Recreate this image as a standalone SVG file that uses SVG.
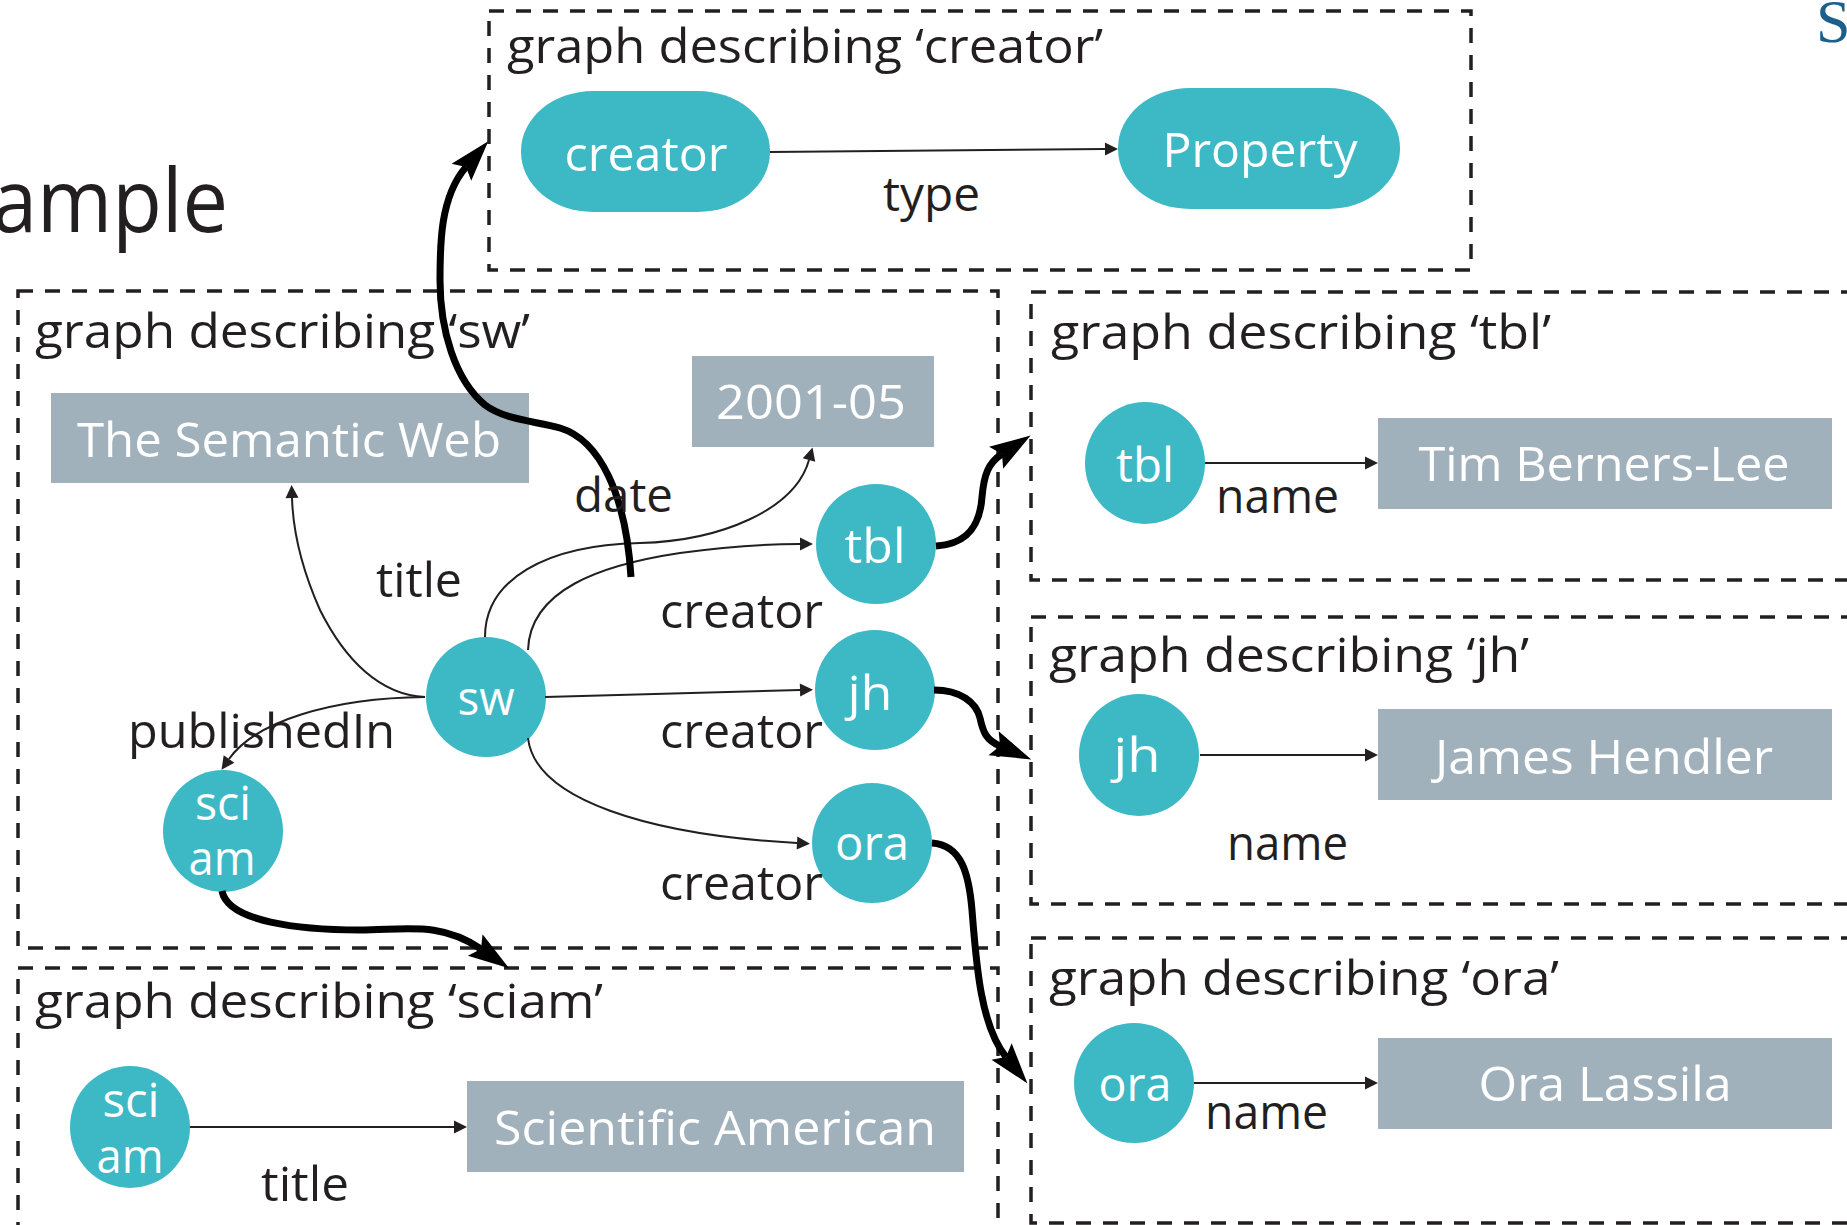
<svg xmlns="http://www.w3.org/2000/svg" width="1847" height="1225" viewBox="0 0 1847 1225">
<style>
.box{fill:none;stroke:#231f20;stroke-width:3.5;stroke-dasharray:15 12}
.node{fill:#3db8c5}
.lit{fill:#a0b1bc}
.t{font-family:"Open Sans","Liberation Sans",sans-serif;font-size:48px;fill:#231f20}
.w{font-family:"Open Sans","Liberation Sans",sans-serif;font-size:48px;fill:#ffffff;text-anchor:middle}
.thin{fill:none;stroke:#231f20;stroke-width:2;marker-end:url(#ah)}
.thick{fill:none;stroke:#000;stroke-width:7;marker-end:url(#big)}
</style>
<defs>
<marker id="ah" markerUnits="userSpaceOnUse" markerWidth="16" markerHeight="16" viewBox="-1 -8 16 16" refX="0" refY="0" orient="auto">
<path d="M13,0 L0,-6.5 L0,6.5 Z" fill="#231f20"/>
</marker>
<marker id="big" markerUnits="userSpaceOnUse" markerWidth="50" markerHeight="32" viewBox="-10 -16 50 32" refX="0" refY="0" orient="auto">
<path d="M34,0 L-7,-13 L0,0 L-7,13 Z" fill="#000"/>
</marker>
</defs>

<text x="-8" y="232" class="t" style="font-size:88px" textLength="236" lengthAdjust="spacingAndGlyphs">ample</text>
<text x="1816" y="42" style="font-family:'Liberation Serif',serif;font-size:62px;fill:#1d5f8b">S</text>

<g id="graph-creator">
<rect class="box" x="489" y="11" width="982" height="259"/>
<text class="t" x="507" y="63" textLength="596" lengthAdjust="spacingAndGlyphs">graph describing ‘creator’</text>
</g>
<g id="graph-sw">
<rect class="box" x="18" y="291" width="980" height="657"/>
<text class="t" x="35" y="348" textLength="495" lengthAdjust="spacingAndGlyphs">graph describing ‘sw’</text>
</g>
<g id="graph-sciam">
<rect class="box" x="18" y="968" width="980" height="275"/>
<text class="t" x="35" y="1018" textLength="568" lengthAdjust="spacingAndGlyphs">graph describing ‘sciam’</text>
</g>
<g id="graph-tbl">
<rect class="box" x="1031" y="292" width="900" height="288"/>
<text class="t" x="1051" y="349" textLength="500" lengthAdjust="spacingAndGlyphs">graph describing ‘tbl’</text>
</g>
<g id="graph-jh">
<rect class="box" x="1031" y="617" width="900" height="287"/>
<text class="t" x="1049" y="672" textLength="480" lengthAdjust="spacingAndGlyphs">graph describing ‘jh’</text>
</g>
<g id="graph-ora">
<rect class="box" x="1031" y="938" width="900" height="285"/>
<text class="t" x="1049" y="995" textLength="510" lengthAdjust="spacingAndGlyphs">graph describing ‘ora’</text>
</g>

<g id="node-creator">
<rect class="node" x="521" y="91" width="249" height="121" rx="72" ry="60"/>
<text class="w" x="646" y="171" textLength="163" lengthAdjust="spacingAndGlyphs">creator</text>
</g>
<g id="node-property">
<rect class="node" x="1118" y="88" width="282" height="121" rx="72" ry="60"/>
<text class="w" x="1260" y="167" textLength="195" lengthAdjust="spacingAndGlyphs">Property</text>
</g>

<g id="node-semantic-web">
<rect class="lit" x="51" y="393" width="478" height="90"/>
<text class="w" x="289" y="457" textLength="424" lengthAdjust="spacingAndGlyphs">The Semantic Web</text>
</g>
<g id="node-date">
<rect class="lit" x="692" y="356" width="242" height="91"/>
<text class="w" x="811" y="419" textLength="190" lengthAdjust="spacingAndGlyphs">2001-05</text>
</g>
<g id="node-sw">
<circle class="node" cx="486" cy="697" r="60"/>
<text class="w" x="486" y="715" textLength="57" lengthAdjust="spacingAndGlyphs">sw</text>
</g>
<g id="node-tbl-sw">
<ellipse class="node" cx="876" cy="544" rx="60" ry="60"/>
<text class="w" x="875" y="563" textLength="61" lengthAdjust="spacingAndGlyphs">tbl</text>
</g>
<g id="node-jh-sw">
<ellipse class="node" cx="875" cy="690" rx="60" ry="60"/>
<text class="w" x="870" y="710" textLength="45" lengthAdjust="spacingAndGlyphs">jh</text>
</g>
<g id="node-ora-sw">
<ellipse class="node" cx="872" cy="843" rx="60" ry="60"/>
<text class="w" x="872" y="860" textLength="74" lengthAdjust="spacingAndGlyphs">ora</text>
</g>
<g id="node-sciam-sw">
<ellipse class="node" cx="223" cy="831" rx="60" ry="61"/>
<text class="w" x="223" y="820" textLength="56" lengthAdjust="spacingAndGlyphs">sci</text>
<text class="w" x="222" y="875" textLength="67" lengthAdjust="spacingAndGlyphs">am</text>
</g>

<g id="node-sciam">
<ellipse class="node" cx="130" cy="1127" rx="60" ry="61"/>
<text class="w" x="131" y="1117" textLength="57" lengthAdjust="spacingAndGlyphs">sci</text>
<text class="w" x="130" y="1173" textLength="67" lengthAdjust="spacingAndGlyphs">am</text>
</g>
<g id="node-scientific-american">
<rect class="lit" x="467" y="1081" width="497" height="91"/>
<text class="w" x="715" y="1145" textLength="442" lengthAdjust="spacingAndGlyphs">Scientific American</text>
</g>

<g id="node-tbl">
<ellipse class="node" cx="1145" cy="463" rx="60" ry="61"/>
<text class="w" x="1145" y="482" textLength="58" lengthAdjust="spacingAndGlyphs">tbl</text>
</g>
<g id="node-tim">
<rect class="lit" x="1378" y="418" width="454" height="91"/>
<text class="w" x="1604" y="481" textLength="371" lengthAdjust="spacingAndGlyphs">Tim Berners-Lee</text>
</g>
<g id="node-jh">
<ellipse class="node" cx="1139" cy="755" rx="60" ry="61"/>
<text class="w" x="1137" y="772" textLength="47" lengthAdjust="spacingAndGlyphs">jh</text>
</g>
<g id="node-james">
<rect class="lit" x="1378" y="709" width="454" height="91"/>
<text class="w" x="1604" y="774" textLength="338" lengthAdjust="spacingAndGlyphs">James Hendler</text>
</g>
<g id="node-ora">
<ellipse class="node" cx="1134" cy="1083" rx="60" ry="60"/>
<text class="w" x="1135" y="1101" textLength="73" lengthAdjust="spacingAndGlyphs">ora</text>
</g>
<g id="node-ora-lassila">
<rect class="lit" x="1378" y="1038" width="454" height="91"/>
<text class="w" x="1605" y="1101" textLength="253" lengthAdjust="spacingAndGlyphs">Ora Lassila</text>
</g>

<g id="connectors">
<path class="thin" d="M770,152 L1105,149"/>
<path class="thin" d="M425,697 C380,695 345,660 320,610 C300,565 293,530 292,498"/>
<path class="thin" d="M425,697 C330,698 255,722 229,759"/>
<path class="thin" d="M485,637 C485,580 545,545 640,543 C720,541 795,510 809,460"/>
<path class="thin" d="M528,650 C530,590 600,565 680,553 C730,546 770,544 800,544"/>
<path class="thin" d="M545,697 L800,690"/>
<path class="thin" d="M528,738 C535,800 650,835 797,843"/>
<path class="thin" d="M190,1127 L454,1127"/>
<path class="thin" d="M1205,463 L1365,463"/>
<path class="thin" d="M1200,755 L1365,755"/>
<path class="thin" d="M1194,1083 L1365,1083"/>

<path class="thick" d="M631,577 C626,495 600,440 560,428 C535,421 505,420 485,405 C455,380 440,330 440,280 C440,245 440,197 466,167"/>
<path class="thick" d="M936,546 C968,544 980,525 982,497 C984,475 988,463 1002,454"/>
<path class="thick" d="M934,690 C960,690 976,702 980,718 C983,732 986,740 1000,746"/>
<path class="thick" d="M932,843 C962,845 969,875 972,910 C976,960 980,1025 1006,1057"/>
<path class="thick" d="M222,891 C228,922 300,930 360,930 C405,930 440,921 481,949"/>

<text class="t" x="883" y="211" textLength="97" lengthAdjust="spacingAndGlyphs">type</text>
<text class="t" x="376" y="597" textLength="86" lengthAdjust="spacingAndGlyphs">title</text>
<text class="t" x="128" y="748" textLength="267" lengthAdjust="spacingAndGlyphs">publishedIn</text>
<text class="t" x="574" y="512" textLength="99" lengthAdjust="spacingAndGlyphs">date</text>
<text class="t" x="660" y="628" textLength="163" lengthAdjust="spacingAndGlyphs">creator</text>
<text class="t" x="660" y="748" textLength="163" lengthAdjust="spacingAndGlyphs">creator</text>
<text class="t" x="660" y="900" textLength="163" lengthAdjust="spacingAndGlyphs">creator</text>
<text class="t" x="261" y="1201" textLength="88" lengthAdjust="spacingAndGlyphs">title</text>
<text class="t" x="1216" y="513" textLength="123" lengthAdjust="spacingAndGlyphs">name</text>
<text class="t" x="1227" y="860" textLength="121" lengthAdjust="spacingAndGlyphs">name</text>
<text class="t" x="1205" y="1129" textLength="123" lengthAdjust="spacingAndGlyphs">name</text>
</g>
</svg>
